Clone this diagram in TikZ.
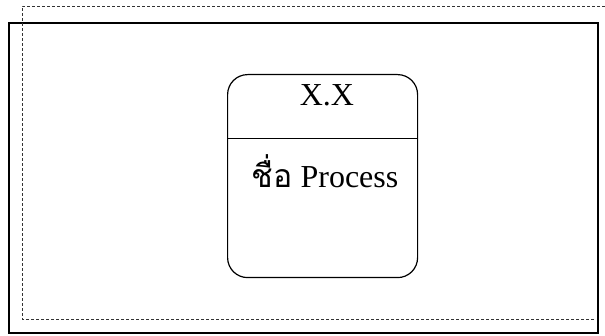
\documentclass[tikz,border=0pt]{standalone}
\usepackage{fontspec}
\setmainfont{Liberation Serif}
\newfontfamily\thaifont[Script=Thai]{Loma}
\begin{document}
\begin{tikzpicture}[x=1pt,y=-1pt,
  outerframe/.style={draw=black,line width=1.8pt},
  innerframe/.style={draw=black!80,line width=0.7pt,densely dashed},
  procbox/.style={draw=black,line width=1.2pt,rounded corners=20pt,minimum width=190pt,minimum height=203pt,inner sep=0pt},
  divider/.style={draw=black,line width=1pt},
  label/.style={font=\fontsize{32}{36}\selectfont,inner sep=0pt}]
\useasboundingbox (0,0) rectangle (605,336);
\node[outerframe,minimum width=589pt,minimum height=310pt,inner sep=0pt,anchor=north west] (frame) at (8,22) {};
\coordinate (d1) at (22,319);
\coordinate (d2) at (22,6);
\coordinate (d3) at (606,6);
\coordinate (d4) at (594,319);
\draw[innerframe] (d4) -- (d1) -- (d2) -- (d3);
\node[procbox,anchor=north west] (proc) at (227,74) {};
\coordinate (divl) at (227,139);
\coordinate (divr) at (417,139);
\draw[divider] (divl) -- (divr);
\node[label,anchor=base] (num) at (327,106) {X.X};
\node[label,anchor=base] (name) at (325,188) {{\thaifont ชื่อ} Process};
\end{tikzpicture}
\end{document}
